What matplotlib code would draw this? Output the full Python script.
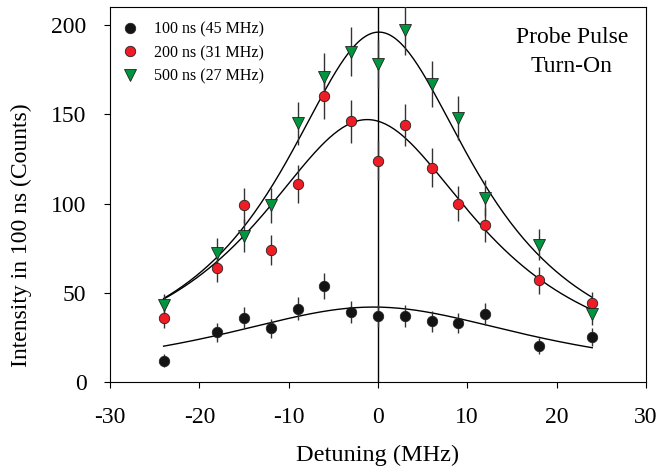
import numpy as np
import matplotlib
matplotlib.use("Agg")
import matplotlib.pyplot as plt

plt.rcParams['font.family'] = ['Liberation Serif', 'DejaVu Serif']
plt.rcParams['axes.unicode_minus'] = False

detuning = [-24, -18, -15, -12, -9, -6, -3, 0, 3, 6, 9, 12, 18, 24]

counts_100 = [12, 28, 36, 30, 41, 54, 39, 37, 37, 34, 33, 38, 20, 25]
err_100 = [3.5, 5.3, 6.0, 5.5, 6.4, 7.3, 6.2, 6.1, 6.1, 5.8, 5.7, 6.2, 4.5, 5.0]

counts_200 = [36, 64, 99, 74, 111, 160, 146, 124, 144, 120, 100, 88, 57, 44]
err_200 = [6.0, 8.0, 9.9, 8.6, 10.5, 12.6, 12.1, 11.1, 12.0, 11.0, 10.0, 9.4, 7.5, 6.6]

counts_500 = [43, 72, 82, 99, 145, 171, 185, 178, 197, 167, 148, 103, 77, 38]
err_500 = [6.5, 8.5, 9.1, 9.9, 12.0, 13.1, 13.6, 13.3, 14.0, 12.9, 12.2, 10.1, 8.8, 6.2]

labels = ["100 ns (45 MHz)", "200 ns (31 MHz)", "500 ns (27 MHz)"]

# Lorentzian fit parameters: peak, centre, FWHM
fit_peak = [42, 147, 196]
fit_center = [-0.5, -1.2, 0.1]
fit_fwhm = [45, 31, 27]

fig = plt.figure(figsize=(6.59, 4.74), dpi=100)
ax = fig.add_axes([0.167, 0.194, 0.813, 0.791])

xf = np.linspace(-24, 24, 200)
for A, c, w in zip(fit_peak, fit_center, fit_fwhm):
    ax.plot(xf, A / (1 + ((xf - c) / (w / 2)) ** 2), color='black', lw=1.0, zorder=2)

ax.axvline(0, color='black', lw=1.0, zorder=1)

series = [
    (counts_100, err_100, 'o', '#141414', 7.5),
    (counts_200, err_200, 'o', '#ee1c24', 7.5),
    (counts_500, err_500, 'v', '#00963f', 8.0),
]
handles = []
for (vals, errs, mk, col, ms), lab in zip(series, labels):
    ax.errorbar(detuning, vals, yerr=errs, fmt='none', ecolor='#333333',
                elinewidth=1.0, capsize=0, zorder=3)
    h, = ax.plot(detuning, vals, linestyle='none', marker=mk, ms=ms,
                 markerfacecolor=col, markeredgecolor='#222222',
                 markeredgewidth=0.6, zorder=4, label=lab)
    handles.append(h)

ax.set_xlim(-30, 30)
ax.set_ylim(0, 210)
ax.set_xticks([-30, -20, -10, 0, 10, 20, 30])
ax.set_yticks([0, 50, 100, 150, 200])
ax.tick_params(direction='out', length=4, width=0.8, labelsize=17)
ax.tick_params(axis='x', pad=14)
ax.tick_params(axis='y', pad=13)
for s in ax.spines.values():
    s.set_linewidth(0.8)

ax.set_xlabel("Detuning (MHz)", fontsize=17.5, labelpad=12)
ax.set_ylabel("Intensity in 100 ns (Counts)", fontsize=17)
ax.yaxis.set_label_coords(-0.146, 0.392)

leg = ax.legend(handles=handles, loc='upper left', frameon=False, fontsize=11.5,
                handletextpad=1.0, handlelength=1.0, labelspacing=0.45,
                borderaxespad=0.0, bbox_to_anchor=(0.01, 0.978))

ax.text(0.862, 0.947, "Probe Pulse\nTurn-On", transform=ax.transAxes,
        ha='center', va='top', fontsize=17, linespacing=1.5,
        multialignment='center')

fig.savefig("out.png", dpi=100)
